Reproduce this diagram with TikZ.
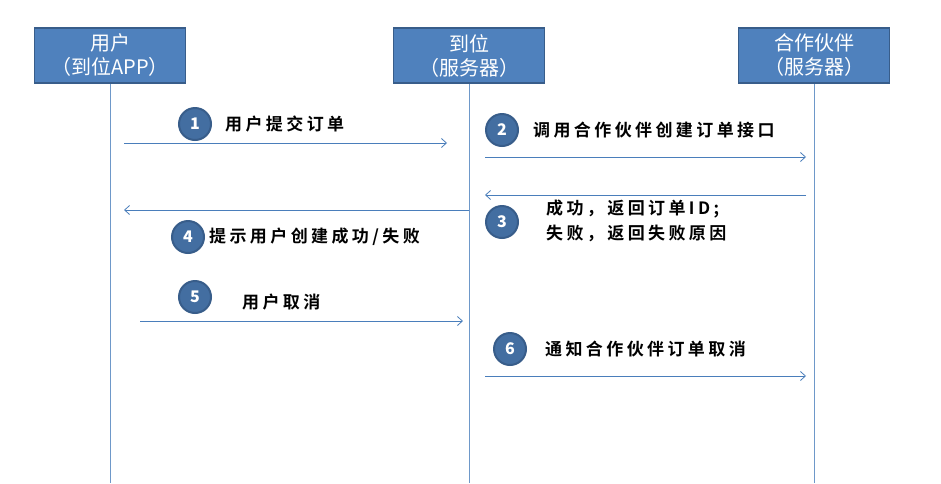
\documentclass[tikz,border=0pt]{standalone}
\usepackage{fontspec}
\setmainfont{Noto Sans CJK SC}
\newfontfamily\cjkb[LetterSpace=20]{Noto Sans CJK SC Bold}
\usetikzlibrary{arrows.meta}
\definecolor{hdr}{HTML}{4F81BD}
\definecolor{hdrb}{HTML}{385D8A}
\definecolor{ln}{HTML}{4A7EBB}
\tikzset{x=1pt,y=-1pt,
 hbox/.style={draw=hdrb,line width=1.5pt,fill=hdr,text=white,minimum width=151pt,minimum height=55pt,align=center,font=\fontsize{20}{24}\selectfont,inner sep=0pt},
 life/.style={draw=ln!80,line width=0.8pt},
 msg/.style={draw=ln,line width=0.8pt,-{Straight Barb[length=5pt,width=9pt]}},
 num/.style={circle,draw=hdrb,line width=2pt,fill=hdr!85!black,text=white,minimum size=32pt,inner sep=0pt,font=\bfseries\fontsize{16}{16}\selectfont},
 lbl/.style={anchor=west,font=\cjkb\fontsize{17}{25}\selectfont,align=left,inner sep=0pt}}
\begin{document}
\begin{tikzpicture}
\useasboundingbox[fill=white] (0,0) rectangle (941,483);
\node[hbox] (u) at (110,55.5) {用户\\（到位APP）};
\node[hbox] (s) at (469,55.5) {到位\\（服务器）};
\node[hbox] (p) at (814,55.5) {合作伙伴\\（服务器）};
\coordinate (ue) at (110,483); \coordinate (se) at (469,483); \coordinate (pe) at (814,483);
\draw[life] (u.south) -- (ue); \draw[life] (s.south) -- (se); \draw[life] (p.south) -- (pe);
\coordinate (a1) at (124,143); \coordinate (b1) at (447,143);
\coordinate (a2) at (485,157); \coordinate (b2) at (806,157);
\coordinate (a3) at (806,195); \coordinate (b3) at (485,195);
\coordinate (a4) at (469,210); \coordinate (b4) at (124,210);
\coordinate (a5) at (140,321); \coordinate (b5) at (463,321);
\coordinate (a6) at (485,376); \coordinate (b6) at (806,376);
\foreach \i in {1,...,6} \draw[msg] (a\i) -- (b\i);
\node[num] (n1) at (195,124) {1};
\node[num] (n2) at (502,130) {2};
\node[num] (n3) at (502,222) {3};
\node[num] (n4) at (188,237) {4};
\node[num] (n5) at (195,297) {5};
\node[num] (n6) at (510,349) {6};
\node[lbl] (t1) at (225,124) {用户提交订单};
\node[lbl] (t2) at (533,130) {调用合作伙伴创建订单接口};
\node[lbl] (t3) at (546,221) {成功，返回订单ID;\\失败，返回失败原因};
\node[lbl] (t4) at (209,237) {提示用户创建成功/失败};
\node[lbl] (t5) at (242,302) {用户取消};
\node[lbl] (t6) at (545,349) {通知合作伙伴订单取消};
\end{tikzpicture}
\end{document}
